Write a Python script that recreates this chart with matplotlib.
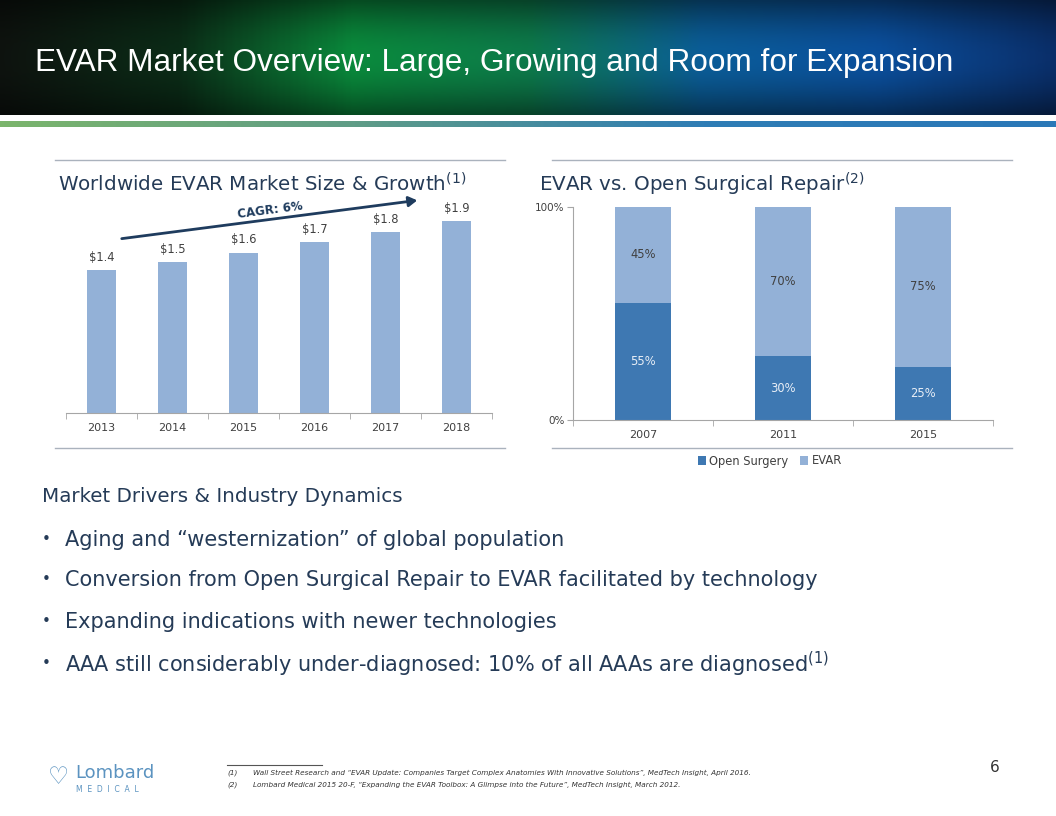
import numpy as np
import matplotlib
matplotlib.use("Agg")
import matplotlib.pyplot as plt
from matplotlib.colors import LinearSegmentedColormap

# market size, $bn
years = ["2013", "2014", "2015", "2016", "2017", "2018"]
market = [1.42, 1.50, 1.59, 1.69, 1.79, 1.90]

# EVAR vs open surgical repair, % of procedures
repair_years = ["2007", "2011", "2015"]
open_surgery = [55, 30, 25]
evar = [45, 70, 75]

bullets = [
    "Aging and \u201cwesternization\u201d of global population",
    "Conversion from Open Surgical Repair to EVAR facilitated by technology",
    "Expanding indications with newer technologies",
    "AAA still considerably under-diagnosed: 10% of all AAAs are diagnosed$^{(1)}$",
]
footnotes = [
    "Wall Street Research and \u201cEVAR Update: Companies Target Complex Anatomies With Innovative Solutions\u201d, MedTech Insight, April 2016.",
    "Lombard Medical 2015 20-F, \u201cExpanding the EVAR Toolbox: A Glimpse into the Future\u201d, MedTech Insight, March 2012.",
]

plt.rcParams["font.family"] = "DejaVu Sans"
plt.rcParams["mathtext.default"] = "regular"

W, H = 1056, 816
navy = "#253b57"
light_blue = "#93b1d7"
dark_blue = "#3e78b2"
grey = "#404040"


def fx(x):
    return x / W


def fy(y):
    return 1 - y / H


fig = plt.figure(figsize=(10.56, 8.16), dpi=100)

# header banner
ban = fig.add_axes([0, fy(115), 1, 115 / H])
stops = ["#0e130f", "#0b2c17", "#0a8a3c", "#0d7a4a", "#0b5d98", "#0b4f9c", "#0a2f6a"]
cmap = LinearSegmentedColormap.from_list("ban", stops)
xs = np.linspace(0, 1, 400)
ys = np.linspace(0, 1, 60)
base = cmap(xs)[:, :3]
shade = 0.55 + 0.45 * np.sin(np.pi * ys)[:, None, None]
img = base[None, :, :] * shade
ban.imshow(img, aspect="auto", extent=[0, 1, 0, 1])
ban.set_axis_off()
fig.text(fx(35), fy(63), "EVAR Market Overview: Large, Growing and Room for Expansion",
         color="white", fontsize=22.7, family="Liberation Sans", va="center", ha="left")

stripe = fig.add_axes([0, fy(127), 1, 6 / H])
scm = LinearSegmentedColormap.from_list("st", ["#7bb56c", "#5f9c86", "#2f7db5", "#2a78b8"])
stripe.imshow(scm(xs)[None, :, :3], aspect="auto", extent=[0, 1, 0, 1])
stripe.set_axis_off()

# separator lines
for y in (160, 448):
    fig.add_artist(plt.Line2D([fx(55), fx(505)], [fy(y), fy(y)], color="#aab2bd", lw=1))
    fig.add_artist(plt.Line2D([fx(552), fx(1012)], [fy(y), fy(y)], color="#aab2bd", lw=1))

fig.text(fx(58), fy(184), "Worldwide EVAR Market Size & Growth$^{(1)}$", color=navy,
         fontsize=14.3, va="center")
fig.text(fx(539), fy(184), "EVAR vs. Open Surgical Repair$^{(2)}$", color=navy,
         fontsize=14.3, va="center")

# left chart
ax1 = fig.add_axes([fx(66), fy(413), fx(492) - fx(66), (413 - 195) / H])
pos = np.arange(len(years))
bars = ax1.bar(pos, market, width=0.41, color=light_blue)
for b, v in zip(bars, market):
    ax1.text(b.get_x() + b.get_width() / 2, v + 0.06, f"${v:.1f}", ha="center",
             va="bottom", fontsize=8.3, color=grey)
ax1.set_xlim(-0.5, 5.5)
ax1.set_ylim(0, 2.16)
ax1.set_xticks(pos)
ax1.set_xticklabels(years, fontsize=8, color=grey)
ax1.set_xticks(np.arange(-0.5, 6, 1), minor=True)
ax1.tick_params(axis="x", which="major", length=0, pad=7)
ax1.tick_params(axis="x", which="minor", length=4, color="#a6a6a6")
ax1.set_yticks([])
for s in ("top", "right", "left"):
    ax1.spines[s].set_visible(False)
ax1.spines["bottom"].set_color("#a6a6a6")

fig.add_artist(matplotlib.patches.FancyArrowPatch(
    (fx(119), fy(239)), (fx(420), fy(200)), transform=fig.transFigure,
    arrowstyle="-|>,head_length=5,head_width=3", color="#1f3c5e", lw=2))
fig.text(fx(270), fy(210), "CAGR: 6%", rotation=7.4, color="#1f3c5e", fontsize=8.5,
         fontweight="bold", ha="center", va="center")

# right chart
ax2 = fig.add_axes([fx(573), fy(420), fx(993) - fx(573), (420 - 207) / H])
rp = np.arange(len(repair_years))
ax2.bar(rp, open_surgery, width=0.4, color=dark_blue, label="Open Surgery")
ax2.bar(rp, evar, width=0.4, bottom=open_surgery, color=light_blue, label="EVAR")
for x, o, e in zip(rp, open_surgery, evar):
    ax2.text(x, o / 2, f"{o}%", ha="center", va="center", fontsize=8.3, color="#e8eef6")
    ax2.text(x, o + e / 2, f"{e}%", ha="center", va="center", fontsize=8.3, color=grey)
ax2.set_xlim(-0.5, 2.5)
ax2.set_ylim(0, 100)
ax2.set_yticks([0, 100])
ax2.set_yticklabels(["0%", "100%"], fontsize=7.5, color=grey)
ax2.set_xticks(rp)
ax2.set_xticklabels(repair_years, fontsize=8, color=grey)
ax2.set_xticks(np.arange(-0.5, 3, 1), minor=True)
ax2.tick_params(axis="x", which="major", length=0, pad=7)
ax2.tick_params(axis="x", which="minor", length=4, color="#a6a6a6")
ax2.tick_params(axis="y", length=4, color="#a6a6a6", pad=2)
for s in ("top", "right"):
    ax2.spines[s].set_visible(False)
ax2.spines["bottom"].set_color("#a6a6a6")
ax2.spines["left"].set_color("#a6a6a6")
ax2.legend(loc="center", bbox_to_anchor=(fx(770), fy(461)), bbox_transform=fig.transFigure,
           ncol=2, frameon=False, fontsize=8.3, handlelength=0.7, handleheight=0.7,
           handletextpad=0.3, columnspacing=1.0, labelcolor=grey)

# market drivers text
fig.text(fx(42), fy(497), "Market Drivers & Industry Dynamics", color=navy, fontsize=14.3,
         va="center")
for i, t in enumerate(bullets):
    y = [540, 580, 622, 664][i]
    fig.text(fx(42), fy(y), "\u2022", color=navy, fontsize=11, va="center")
    fig.text(fx(65), fy(y), t, color=navy, fontsize=15, va="center")

# footer
fig.add_artist(plt.Line2D([fx(227), fx(322)], [fy(765), fy(765)], color="#555555", lw=0.8))
for i, t in enumerate(footnotes):
    y = [773, 785][i]
    fig.text(fx(227), fy(y), f"({i + 1})", fontsize=5.2, style="italic", color="#333333",
             va="center")
    fig.text(fx(253), fy(y), t, fontsize=5.2, style="italic", color="#333333", va="center")
fig.text(fx(990), fy(768), "6", fontsize=11, color="#333333", va="center")
fig.text(fx(48), fy(777), "\u2661", fontsize=17, color="#5b93c0", va="center")
fig.text(fx(75), fy(773), "Lombard", fontsize=13, color="#5b93c0", va="center")
fig.text(fx(76), fy(789), "M  E  D  I  C  A  L", fontsize=5.5, color="#5b93c0", va="center")

fig.savefig("out.png", dpi=100)
